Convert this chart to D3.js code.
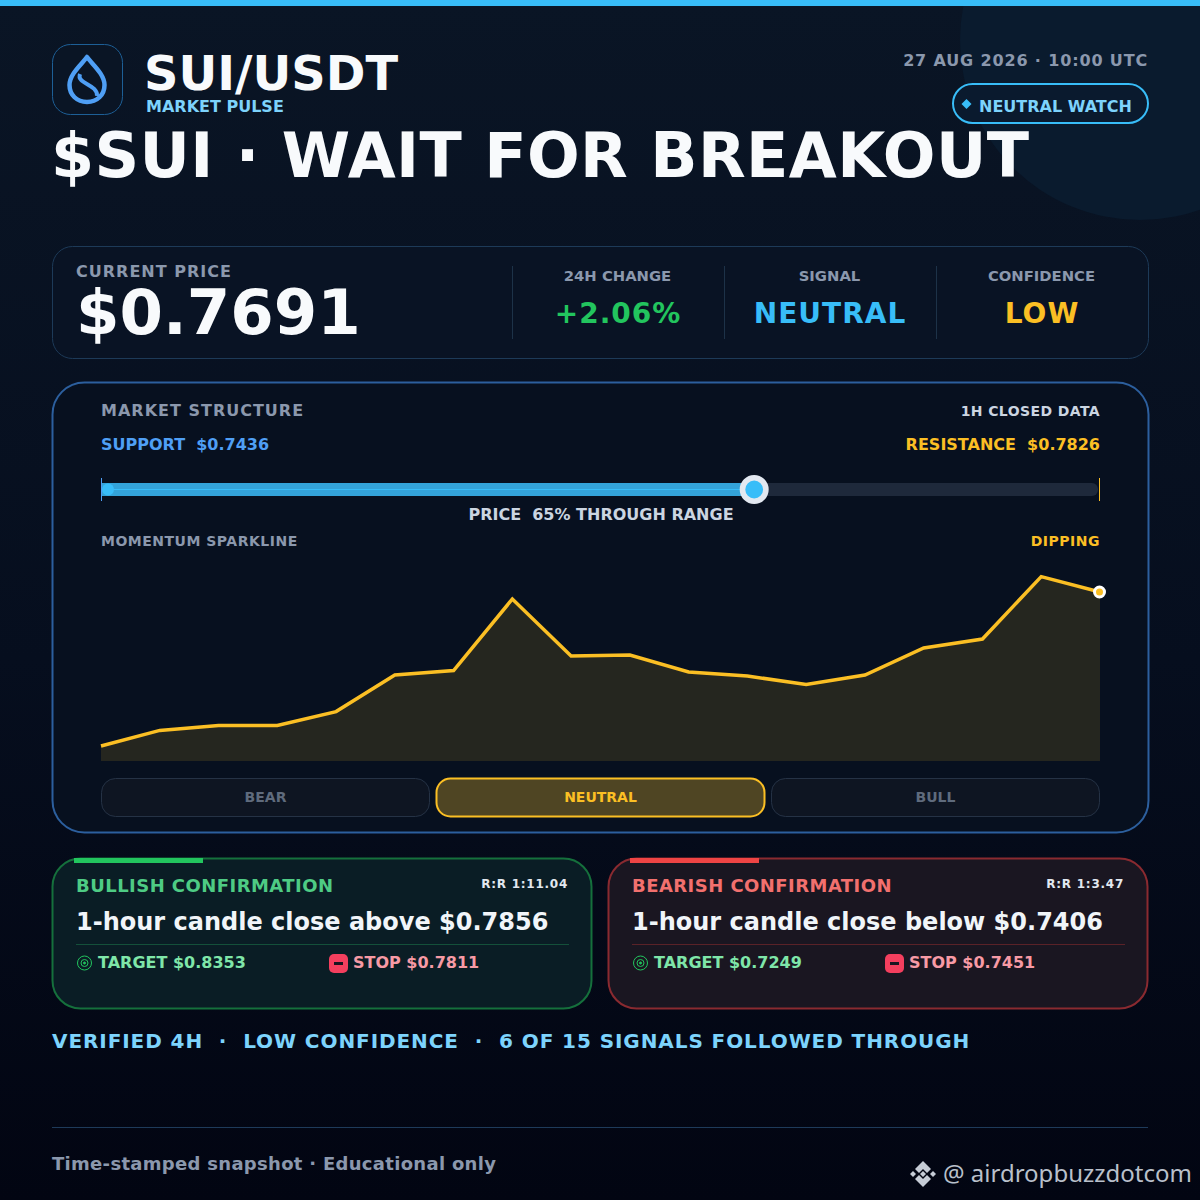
<!DOCTYPE html>
<html>
<head>
<meta charset="utf-8">
<style>
html, body { margin: 0; padding: 0; background: #020511; }
svg { display: block; }
text { font-family: "DejaVu Sans", sans-serif; font-weight: 700; white-space: pre; }
</style>
<script src="https://cdn.jsdelivr.net/npm/d3@7"></script>
</head>
<body>
<svg id="chart" width="1200" height="1200"></svg>
<script>
// values
const support = 0.7436;
const resistance = 0.7826;
const price = 0.7691;
const sparkline = [7.5, 15.3, 17.8, 17.8, 24.7, 43, 45.2, 81, 52.5, 53, 44.5, 42.5, 38.2, 43, 56.5, 61, 92.2, 84.5];
const statLabels = ["24H CHANGE", "SIGNAL", "CONFIDENCE"];
const statValues = ["+2.06%", "NEUTRAL", "LOW"];
const statColors = ["#22c55e", "#38bdf8", "#fbbf24"];
const stateLabels = ["BEAR", "NEUTRAL", "BULL"];
const cardTitles = ["BULLISH CONFIRMATION", "BEARISH CONFIRMATION"];
const cardRatios = ["R:R 1:11.04", "R:R 1:3.47"];
const cardTexts = ["1-hour candle close above $0.7856", "1-hour candle close below $0.7406"];
const cardTargets = ["TARGET $0.8353", "TARGET $0.7249"];
const cardStops = ["STOP $0.7811", "STOP $0.7451"];

const svg = d3.select("#chart");
const defs = svg.append("defs");

const bg = defs.append("linearGradient").attr("id", "bg").attr("x1", 0).attr("x2", 0).attr("y1", 0).attr("y2", 1);
bg.append("stop").attr("offset", "0%").attr("stop-color", "#0a1525");
bg.append("stop").attr("offset", "55%").attr("stop-color", "#060e1e");
bg.append("stop").attr("offset", "100%").attr("stop-color", "#020512");

function label(x, y, str, size, color, anchor, spacing) {
    return svg.append("text")
        .attr("x", x)
        .attr("y", y)
        .attr("font-size", size)
        .attr("fill", color)
        .attr("text-anchor", anchor || "start")
        .attr("letter-spacing", spacing || 0)
        .text(str);
}

function panel(x, y, w, h, r, fill, stroke, sw) {
    return svg.append("rect")
        .attr("x", x).attr("y", y)
        .attr("width", w).attr("height", h)
        .attr("rx", r)
        .attr("fill", fill)
        .attr("stroke", stroke)
        .attr("stroke-width", sw || 1);
}

// background
svg.append("rect").attr("width", 1200).attr("height", 1200).attr("fill", "url(#bg)");
svg.append("circle").attr("cx", 1140).attr("cy", 40).attr("r", 180).attr("fill", "#0a1b2e");
svg.append("rect").attr("width", 1200).attr("height", 6).attr("fill", "#38bdf8");

// header
panel(52.5, 44.5, 70, 70, 18, "#0a1525", "#1d5f96");
svg.append("path")
    .attr("d", "M87 57 C92 64 104.5 74 104.5 85 C104.5 95 97 102 87 102 C77 102 69.5 95 69.5 85 C69.5 74 82 64 87 57 Z")
    .attr("fill", "none").attr("stroke", "#4f9ff5").attr("stroke-width", 4.5).attr("stroke-linejoin", "round");
svg.append("path")
    .attr("d", "M80 74 C76 84 98 84 97 96")
    .attr("fill", "none").attr("stroke", "#4f9ff5").attr("stroke-width", 4);
label(144, 90, "SUI/USDT", 47.8, "#f8fafc");
label(146, 112, "MARKET PULSE", 16, "#7dd3fc");
label(51, 177, "$SUI · WAIT FOR BREAKOUT", 62, "#f8fafc", "start", 0.4);
label(1148, 66, "27 AUG 2026 · 10:00 UTC", 16, "#8b98ad", "end", 0.85);
panel(953, 84, 195, 39, 19.5, "#0a1a2e", "#38bdf8", 2);
svg.append("path").attr("d", "M966.5 99 L971.5 104 L966.5 109 L961.5 104 Z").attr("fill", "#38bdf8");
label(979, 112, "NEUTRAL WATCH", 16, "#7dd3fc");

// price panel
panel(52.5, 246.5, 1096, 112, 20, "#091324", "#1d3a58");
label(76, 277, "CURRENT PRICE", 16, "#8b98ad", "start", 1);
label(76, 334, "$" + price.toFixed(4), 62.5, "#f8fafc");
const statX = d3.scaleBand().domain(statLabels).range([513, 1149]);
statLabels.forEach((s, i) => {
    const cx = statX(s) + statX.bandwidth() / 2;
    svg.append("line").attr("x1", statX(s) - 0.5).attr("x2", statX(s) - 0.5).attr("y1", 266).attr("y2", 339).attr("stroke", "#1d3248");
    label(cx - 1.5, 281, s, 14.8, "#8b98ad", "middle");
    label(cx - 1, 323, statValues[i], 28, statColors[i], "middle", 1);
});

// structure panel
panel(52.5, 382.5, 1096, 450, 32, "#07101f", "#2c5f9e", 2);
label(101, 416, "MARKET STRUCTURE", 16, "#8b98ad", "start", 1);
label(1100, 416, "1H CLOSED DATA", 14, "#cbd5e1", "end", 0.4);
label(101, 450, "SUPPORT  $" + support.toFixed(4), 16, "#4f9ff5");
label(1100, 450, "RESISTANCE  $" + resistance.toFixed(4), 16, "#fbbf24", "end");

const rangeX = d3.scaleLinear().domain([support, resistance]).range([101, 1100]);
const trackY = 489.5;
svg.append("rect").attr("x", rangeX(support)).attr("y", 483).attr("width", 999 - 2).attr("height", 13).attr("rx", 6).attr("fill", "#1e293b");
svg.append("rect").attr("x", rangeX(support)).attr("y", 483).attr("width", rangeX(price) - rangeX(support)).attr("height", 13).attr("fill", "#33a3d9");
svg.append("line").attr("x1", rangeX(support)).attr("x2", rangeX(price)).attr("y1", trackY).attr("y2", trackY).attr("stroke", "#38bdf8");
svg.append("line").attr("x1", 101.5).attr("x2", 101.5).attr("y1", 478).attr("y2", 501).attr("stroke", "#4f9ff5");
svg.append("line").attr("x1", 1099.5).attr("x2", 1099.5).attr("y1", 478).attr("y2", 501).attr("stroke", "#fbbf24");
svg.append("circle").attr("cx", 108).attr("cy", trackY).attr("r", 6).attr("fill", "#38bdf8");
svg.append("circle").attr("cx", rangeX(price)).attr("cy", trackY).attr("r", 11.7).attr("fill", "#38bdf8").attr("stroke", "#e2e8f0").attr("stroke-width", 5.6);
const pct = Math.round((price - support) / (resistance - support) * 100);
label(601, 520, "PRICE  " + pct + "% THROUGH RANGE", 16, "#cbd5e1", "middle");
label(101, 546, "MOMENTUM SPARKLINE", 14, "#8b98ad", "start", 0.5);
label(1100, 546, "DIPPING", 14, "#fbbf24", "end", 0.5);

// sparkline
const sparkX = d3.scaleLinear().domain([0, sparkline.length - 1]).range([101, 1100]);
const sparkY = d3.scaleLinear().domain([0, 100]).range([761, 561]);
svg.append("path").datum(sparkline)
    .attr("fill", "#25261f")
    .attr("d", d3.area().x((d, i) => sparkX(i)).y0(sparkY(0)).y1(d => sparkY(d)));
svg.append("path").datum(sparkline)
    .attr("fill", "none").attr("stroke", "#fbbf24").attr("stroke-width", 3.5)
    .attr("d", d3.line().x((d, i) => sparkX(i)).y(d => sparkY(d)));
const last = sparkline.length - 1;
svg.append("circle").attr("cx", sparkX(last) - 0.5).attr("cy", sparkY(sparkline[last])).attr("r", 5).attr("fill", "#fbbf24").attr("stroke", "#ffffff").attr("stroke-width", 3);

// state buttons
const stateX = d3.scaleBand().domain(stateLabels).range([101, 1100]).paddingInner(0.0179);
stateLabels.forEach(s => {
    const on = s === "NEUTRAL";
    panel(stateX(s) + 0.5, 778.5, stateX.bandwidth() - 1, 38, 14, on ? "#4f4523" : "#0e1522", on ? "#fbbf24" : "#253245", on ? 2 : 1);
    label(stateX(s) + stateX.bandwidth() / 2, 802, s, 14, on ? "#fbbf24" : "#5f6b7d", "middle");
});

// confirmation cards
const cardX = d3.scaleBand().domain(cardTitles).range([52, 1148]).paddingInner(0.0288);
const cardFill = ["#0a1d25", "#1a1621"];
const cardLine = ["#15703c", "#8a2a30"];
const cardBar = ["#22c55e", "#ef4444"];
const cardHead = ["#4ecb84", "#f2706e"];
const cardRule = ["#14503a", "#5a2228"];
cardTitles.forEach((t, i) => {
    const x = cardX(t);
    panel(x + 0.5, 858.5, cardX.bandwidth() - 1, 150, 28, cardFill[i], cardLine[i], 2);
    svg.append("rect").attr("x", x + 22).attr("y", 858).attr("width", 129).attr("height", 5).attr("fill", cardBar[i]);
    label(x + 24, 892, t, 18, cardHead[i], "start", 0.45);
    label(x + 516, 888, cardRatios[i], 12, "#e2e8f0", "end", 0.75);
    label(x + 24, 930, cardTexts[i], 24, "#f1f5f9");
    svg.append("line").attr("x1", x + 24).attr("x2", x + 517).attr("y1", 944.5).attr("y2", 944.5).attr("stroke", cardRule[i]);
    // target glyph
    const g = svg.append("g").attr("fill", "none").attr("stroke", "#22c55e").attr("stroke-width", 1);
    g.append("circle").attr("cx", x + 32.5).attr("cy", 963).attr("r", 7);
    g.append("circle").attr("cx", x + 32.5).attr("cy", 963).attr("r", 3.5);
    g.append("circle").attr("cx", x + 32.5).attr("cy", 963).attr("r", 1).attr("fill", "#22c55e");
    label(x + 46, 968, cardTargets[i], 16, "#7fe6a9");
    // stop glyph
    svg.append("rect").attr("x", x + 277).attr("y", 954).attr("width", 19).attr("height", 19).attr("rx", 5).attr("fill", "#f43f5e");
    svg.append("rect").attr("x", x + 282).attr("y", 962).attr("width", 9).attr("height", 3).attr("fill", "#1a1621");
    label(x + 301, 968, cardStops[i], 16, "#f79aa5");
});

// footer
label(52, 1048, "VERIFIED 4H  ·  LOW CONFIDENCE  ·  6 OF 15 SIGNALS FOLLOWED THROUGH", 20, "#7dd3fc", "start", 0.92);
svg.append("line").attr("x1", 52).attr("x2", 1148).attr("y1", 1127.5).attr("y2", 1127.5).attr("stroke", "#1e3a5a");
label(52, 1170, "Time-stamped snapshot · Educational only", 18, "#8b98ad", "start", 0.3);
const mark = svg.append("g").attr("fill", "#c6ccd6");
mark.append("path").attr("d", "M923 1161 L931 1169 L927 1173 L923 1169 L919 1173 L915 1169 Z");
mark.append("path").attr("d", "M923 1187 L915 1179 L919 1175 L923 1179 L927 1175 L931 1179 Z");
mark.append("path").attr("d", "M923 1171 L926 1174 L923 1177 L920 1174 Z");
mark.append("path").attr("d", "M913 1171 L916 1174 L913 1177 L910 1174 Z");
mark.append("path").attr("d", "M933 1171 L936 1174 L933 1177 L930 1174 Z");
label(943, 1182, "@ airdropbuzzdotcom", 24, "#b9c0cb")
    .style("font-family", '"Noto Sans", sans-serif')
    .style("font-weight", 400);
</script>
</body>
</html>
